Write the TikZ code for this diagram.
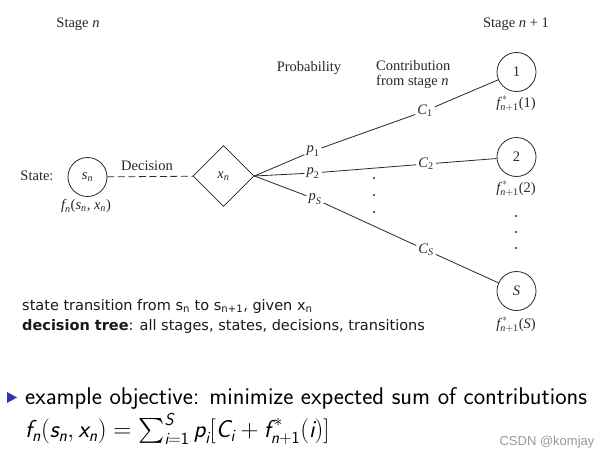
\documentclass[tikz,border=0pt]{standalone}
\usepackage{amsmath}
\usepackage{fontspec}
\setmainfont{Liberation Serif}
\newfontfamily\tah{DejaVu Sans}
\newfontfamily\arl{Liberation Sans}
\usetikzlibrary{shapes.geometric}
\newcommand\iv[1]{\textit{#1}}
\newcommand\sv[1]{\textsf{\itshape #1}}
\newcommand\su[1]{\textsf{#1}}
\definecolor{fig}{RGB}{40,40,40}
\definecolor{bullet}{RGB}{51,51,179}
\begin{document}
\begin{tikzpicture}[x=1pt,y=-1pt,
  lbl/.style={font=\fontsize{14.5}{15}\selectfont, text=fig, inner sep=2pt},
  stnode/.style={circle, draw=fig, line width=0.8pt, minimum size=39pt, inner sep=0pt, font=\fontsize{14.5}{15}\selectfont, text=fig},
  conn/.style={draw=fig, line width=0.8pt},
  dotm/.style={fill=fig, circle, inner sep=0pt, minimum size=2.4pt},
  midtext/.style={anchor=west, inner sep=0pt, font=\tah\fontsize{14.5}{16}\selectfont, text=black!90},
  bigtext/.style={anchor=west, inner sep=0pt, font=\sffamily\fontsize{24.2}{28}\selectfont}]
\useasboundingbox[fill=white] (0,0) rectangle (602,458);

% headers
\node[lbl] (h1) at (78,24) {Stage \iv{n}};
\node[lbl] (h2) at (516,24) {Stage \iv{n} + 1};
\node[lbl] (hp) at (309,68) {Probability};
\node[lbl, align=left, anchor=west] (hc) at (374,75) {Contribution\\from stage \iv{n}};

% state node
\node[lbl] (stl) at (37,176) {State:};
\node[stnode] (sn) at (87.5,177) {$\iv{s}_{\iv{n}}$};
\node[lbl] (fn) at (86,206) {$\iv{f}_{\iv{n}}$(\iv{s}$_{\iv{n}}$, \iv{x}$_{\iv{n}}$)};
\node[lbl] (dec) at (147,166) {Decision};

% decision diamond
\node[diamond, draw=fig, line width=0.8pt, minimum width=61pt, minimum height=61pt, inner sep=0pt, font=\fontsize{14.5}{15}\selectfont, text=fig] (d) at (223.5,176) {$\iv{x}_{\iv{n}}$};
\draw[conn, dash pattern=on 7pt off 3.5pt] (sn) -- (d);

% probability labels
\node[lbl] (p1) at (313,151) {$\iv{p}_{\textup{1}}$};
\node[lbl] (p2) at (313,173) {$\iv{p}_{\textup{2}}$};
\node[lbl] (pS) at (315,199) {$\iv{p}_{\iv{S}}$};

% contribution labels
\node[lbl] (c1) at (425,111) {$\iv{C}_{\textup{1}}$};
\node[lbl] (c2) at (426,164) {$\iv{C}_{\textup{2}}$};
\node[lbl] (cS) at (426,250) {$\iv{C}_{\iv{S}}$};

% next stage states
\node[stnode] (n1) at (516.5,72) {1};
\node[stnode] (n2) at (516.5,157) {2};
\node[stnode] (nS) at (516.5,291) {\iv{S}};
\node[lbl] (f1) at (516,104) {$\iv{f}^{\,*}_{\iv{n}+\textup{1}}$(1)};
\node[lbl] (f2) at (516,189) {$\iv{f}^{\,*}_{\iv{n}+\textup{1}}$(2)};
\node[lbl] (fS) at (516,325) {$\iv{f}^{\,*}_{\iv{n}+\textup{1}}$(\iv{S})};

% connectors
\draw[conn] (d.east) -- (p1) -- (c1) -- (n1);
\draw[conn] (d.east) -- (p2) -- (c2) -- (n2);
\draw[conn] (d.east) -- (pS) -- (cS) -- (nS);

% dots
\node[dotm] (m1) at (374,178) {};
\node[dotm] (m2) at (374,195) {};
\node[dotm] (m3) at (374,212) {};
\node[dotm] (r1) at (516,216) {};
\node[dotm] (r2) at (516,232) {};
\node[dotm] (r3) at (516,248) {};

% text block
\node[midtext] (t1) at (22,306)
  {state transition from s\textsubscript{n} to s\textsubscript{n+1}, given x\textsubscript{n}};
\node[midtext] (t2) at (22,326)
  {\textbf{decision tree}: all stages, states, decisions, transitions};

% bullet and objective
\fill[bullet] (7,392) -- (17,397.5) -- (7,403) -- cycle;
\node[bigtext] (ob) at (25,398)
  {example objective: minimize expected sum of contributions};
\node[bigtext, font=\sffamily\fontsize{24.5}{28}\selectfont] (fo) at (25,429)
  {$\sv{f}_{\sv{n}}(\sv{s}_{\sv{n}}, \sv{x}_{\sv{n}}) = \sum_{\sv{i}=\su{1}}^{\sv{S}} \sv{p}_{\sv{i}}[\sv{C}_{\sv{i}} + \sv{f}^{\,*}_{\sv{n}+\su{1}}(\sv{i})]$};

% watermark
\node[font=\arl\fontsize{13}{14}\selectfont, text=black!40] (wm) at (547,442) {CSDN @komjay};
\end{tikzpicture}
\end{document}
